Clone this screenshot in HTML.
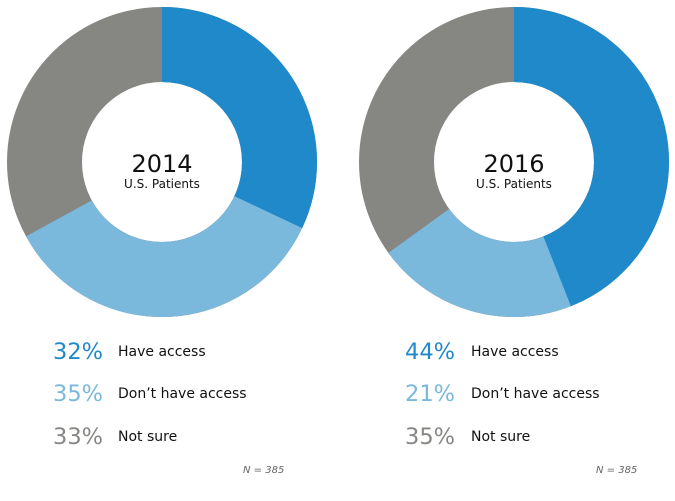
<!DOCTYPE html>
<html><head><style>
body{margin:0;background:#fff;width:675px;height:497px;overflow:hidden;font-family:"DejaVu Sans",Verdana,sans-serif;}
</style></head><body>
<svg width="675" height="497" xmlns="http://www.w3.org/2000/svg" font-family="DejaVu Sans, Verdana, sans-serif">
<g transform="rotate(-90 162 162)" fill="none" stroke-width="75">
<circle cx="162" cy="162" r="117.5" stroke="#868682"/>
<circle cx="162" cy="162" r="117.5" stroke="#7ab9db" stroke-dasharray="494.64 1000"/>
<circle cx="162" cy="162" r="117.5" stroke="#2089c9" stroke-dasharray="236.25 1000"/>
</g>
<g transform="rotate(-90 514 162)" fill="none" stroke-width="75">
<circle cx="514" cy="162" r="117.5" stroke="#868682"/>
<circle cx="514" cy="162" r="117.5" stroke="#7ab9db" stroke-dasharray="479.88 1000"/>
<circle cx="514" cy="162" r="117.5" stroke="#2089c9" stroke-dasharray="324.84 1000"/>
</g>
<text x="162" y="172" font-size="24" text-anchor="middle" fill="#111">2014</text>
<text x="162" y="188" font-size="12" text-anchor="middle" fill="#111">U.S. Patients</text>
<text x="514" y="172" font-size="24" text-anchor="middle" fill="#111">2016</text>
<text x="514" y="188" font-size="12" text-anchor="middle" fill="#111">U.S. Patients</text>
<g font-size="22.5">
<text x="53" y="359" fill="#2089c9">32%</text>
<text x="53" y="401" fill="#7ab9db">35%</text>
<text x="53" y="444" fill="#868682">33%</text>
<text x="405" y="359" fill="#2089c9">44%</text>
<text x="405" y="401" fill="#7ab9db">21%</text>
<text x="405" y="444" fill="#868682">35%</text>
</g>
<g font-size="14" fill="#111">
<text x="118" y="356">Have access</text>
<text x="118" y="398">Don’t have access</text>
<text x="118" y="441">Not sure</text>
<text x="471" y="356">Have access</text>
<text x="471" y="398">Don’t have access</text>
<text x="471" y="441">Not sure</text>
</g>
<g font-size="10" font-style="italic" fill="#666">
<text x="243" y="473">N = 385</text>
<text x="596" y="473">N = 385</text>
</g>
</svg>
</body></html>
